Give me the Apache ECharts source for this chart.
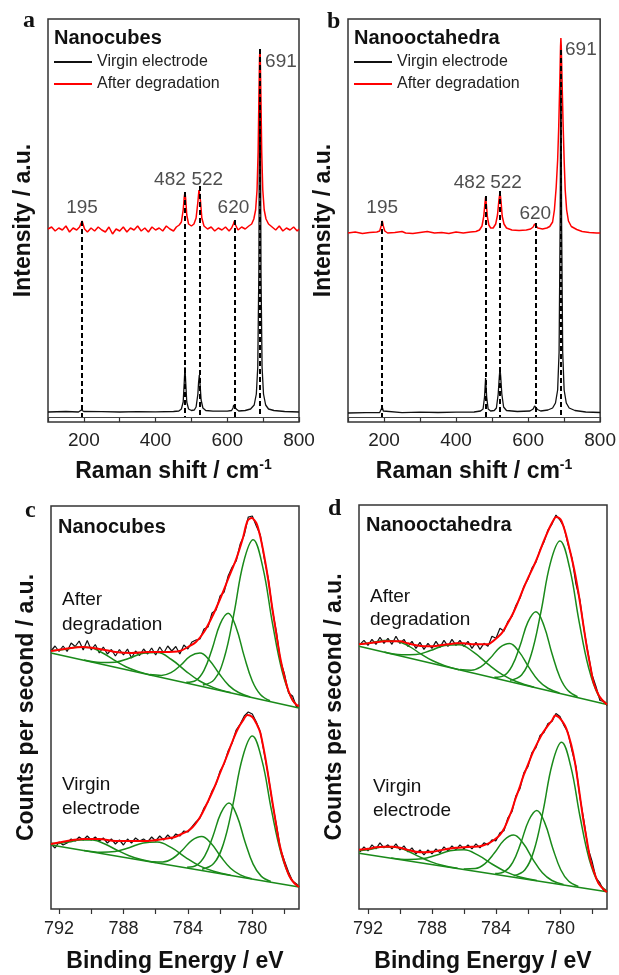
<!DOCTYPE html>
<html>
<head>
<meta charset="utf-8">
<script src="https://cdn.jsdelivr.net/npm/echarts@6/dist/echarts.min.js"></script>
<style>
  html, body { margin: 0; padding: 0; background: #fff; }
  #main { width: 619px; height: 975px; }
</style>
</head>
<body>
<div id="main"></div>
<script>
// ---- Raman (a: nanocubes, b: nanooctahedra) ----
var ramanPeaks = [195, 482, 522, 620, 691];
var dashTopA = [201, 230, 236, 202, 373];
var dashTopB = [201, 226, 231, 199, 372];
var ramanTicks = [100, 200, 300, 400, 500, 600, 700, 800];
var ramanLabels = [200, 400, 600, 800];

var virginA = [[100,10],[150,10.5],[185,10],[190,10.5],[193,12],[195,14],[197,12],[200,10.5],[205,10],[250,10.3],[300,10],[350,10.4],[400,10.2],[450,10.5],[465,11],[472,13],[477,20],[480,40],[482,55],[484,40],[487,20],[492,13],[500,11.5],[508,12],[513,15],[518,28],[520,40],[522,47],[524,38],[527,22],[532,14],[540,11.5],[560,10.8],[600,10.8],[612,11.5],[616,14],[618,17],[620,19],[622,17],[625,13],[632,11],[650,11.5],[665,13],[675,17],[681,28],[685,55],[688,150],[690,330],[691,373],[692,330],[694,150],[697,55],[701,28],[707,17],[715,13],[730,11.5],[760,10.5],[800,10]];
var afterA = [[100,193],[110,195],[120,191],[130,194],[140,192],[150,196],[160,190],[170,194],[180,192],[188,195],[195,201],[202,193],[210,190],[220,194],[230,191],[240,195],[250,192],[260,190],[270,195],[280,188],[290,193],[300,191],[310,195],[320,190],[330,194],[340,192],[350,196],[360,191],[370,194],[380,190],[390,195],[400,192],[410,194],[420,191],[430,196],[440,193],[450,191],[458,195],[466,197],[472,200],[477,212],[480,225],[482,230],[484,223],[487,207],[492,198],[500,196],[507,198],[513,204],[518,220],[521,232],[523,233],[525,222],[529,204],[535,196],[545,193],[555,195],[565,191],[575,194],[585,192],[595,195],[605,191],[612,194],[617,198],[620,201],[623,197],[630,192],[640,195],[650,193],[660,196],[668,198],[674,203],[679,212],[683,232],[686,270],[688,320],[690,365],[691,372],[692,365],[694,320],[696,270],[699,232],[703,212],[708,203],[715,198],[725,195],[735,192],[745,196],[755,191],[765,194],[775,192],[785,195],[795,191],[800,193]];
var virginB = [[100,9],[150,9.3],[188,9.5],[192,11],[195,15],[198,11],[203,9.5],[250,9.3],[300,9.8],[350,9.5],[400,9.8],[450,10],[468,11],[475,13],[479,25],[482,44],[485,25],[489,13],[496,11],[506,11.5],[512,14],[517,28],[520,45],[522,54],[524,45],[527,28],[532,15],[540,11.5],[570,10.5],[605,11],[614,13],[618,16],[620,18],[622,16],[626,12.5],[635,11],[655,12],[668,14],[676,19],[682,32],[686,70],[689,200],[691,377],[693,200],[696,70],[700,32],[706,19],[714,14],[730,11.5],[760,10],[800,9.5]];
var afterB = [[100,189],[120,190],[140,188.5],[160,189.5],[180,190],[188,191],[192,196],[195,201],[198,196],[202,191],[210,189],[230,189.5],[250,190.5],[260,189],[280,188.5],[300,189.5],[320,190.5],[340,189],[360,189.5],[380,188.5],[400,190],[420,189],[440,190],[455,190.5],[465,192],[472,196],[477,206],[480,218],[482,225],[484,218],[487,205],[491,197],[496,194],[503,194],[510,198],[515,207],[519,222],[522,230],[525,220],[528,206],[533,198],[540,194],[555,192],[575,191.5],[595,192],[607,193],[614,195],[618,198],[620,198.5],[622,197],[627,194],[640,193],[652,194],[660,195.5],[668,200],[673,212],[678,235],[682,262],[685,295],[688,340],[690,375],[691,384],[692,376],[694,345],[697,300],[700,262],[703,232],[707,212],[712,201],[720,195.5],[735,192.5],[750,190.5],[770,189.5],[790,189],[800,189]];

// ---- XPS Fe 2p (c: nanocubes, d: nanooctahedra) ----
var xpsTicks = [778, 780, 782, 784, 786, 788, 790, 792];
var xpsLabels = [780, 784, 788, 792];

var cAfterRaw = [[792.5,258],[792.25,263],[792,257.5],[791.75,263],[791.5,257.5],[791.25,266],[791,262.5],[790.75,268],[790.5,259],[790.25,268.5],[790,259],[789.75,264.5],[789.5,256],[789.25,262],[789,255],[788.75,259.5],[788.5,253],[788.25,259.5],[788,254],[787.75,260],[787.5,251],[787.25,258],[787,253.5],[786.75,260],[786.5,255],[786.25,261],[786,254],[785.75,262],[785.5,256],[785.25,263],[785,258],[784.75,262.5],[784.5,255],[784.25,264],[784,260],[783.75,267],[783.5,269],[783.25,270],[783,280],[782.75,282],[782.5,296],[782.25,299],[782,313],[781.75,317],[781.5,333],[781.25,342],[781,348],[780.75,365],[780.5,374],[780.25,392],[780,393],[779.75,383],[779.5,374],[779.25,350],[779,330],[778.75,299],[778.5,277],[778.25,248],[778,235],[777.75,216],[777.5,213],[777.25,202],[777.1,204]];
var cAfterFit = [[792.5,258],[791.5,260.5],[790.5,262],[789.5,260],[788.5,257],[787.5,256],[786.5,257],[785.5,257],[784.5,258],[784,262],[783.5,267],[783,277],[782.5,292],[782,310],[781.5,330],[781,350],[780.6,370],[780.3,388],[780.05,391],[779.75,386],[779.5,372],[779.25,352],[779,328],[778.75,300],[778.5,274],[778.25,250],[778,232],[777.75,218],[777.5,209],[777.25,204],[777.1,203]];
var cAfterBg = [[792.5,256],[777.1,201]];
var cAfterComp = [
  [[777.1,202],[777.55,210],[778.15,237.9],[778.75,285.9],[779.35,341.9],[779.95,369.2],[780.55,346.2],[781.15,294.5],[781.75,250.8],[782.35,229.6],[783.07,223.9]],
  [[778.9,208.2],[779.5,214.5],[780,228],[780.5,252.6],[781,281.3],[781.5,295.7],[782,284.9],[782.5,259.8],[783,238.7],[783.5,228.7],[784.1,226.8]],
  [[780.13,212.1],[780.85,216.5],[781.45,223.4],[782.05,235.2],[782.65,248.6],[783.25,256],[783.85,252.9],[784.45,243.7],[785.05,236.3],[785.65,233.6],[786.37,234.4]],
  [[781.35,216.4],[782.4,221.4],[783.27,228],[784.15,238.2],[785.02,249.5],[785.9,256.4],[786.77,255.7],[787.65,250.7],[788.52,246.8],[789.4,246.4],[790.45,248.9]],
  [[786.2,233.6],[787.1,237.6],[787.85,242.3],[788.6,249.1],[789.35,256.5],[790.1,261.4],[790.85,261.9],[791.6,259.8],[792.35,258.4],[792.5,258.2]]
];

var cVirginRaw = [[792.5,65],[792.25,61],[792,67],[791.75,64],[791.5,66],[791.25,70],[791,68],[790.75,72],[790.5,69],[790.25,73],[790,69],[789.75,72],[789.5,68],[789.25,71],[789,66],[788.75,70],[788.5,65],[788.25,69],[788,64],[787.75,70],[787.5,66],[787.25,71],[787,68],[786.75,70],[786.5,67],[786.25,72],[786,68],[785.75,73],[785.5,69],[785.25,74],[785,70],[784.75,75],[784.5,73],[784.25,78],[784,77],[783.75,82],[783.5,87],[783.25,91],[783,101],[782.75,107],[782.5,118],[782.25,125],[782,138],[781.75,145],[781.5,158],[781.25,166],[781,179],[780.75,185],[780.5,193],[780.25,197],[780,195],[779.75,187],[779.5,177],[779.25,155],[779,133],[778.75,106],[778.5,84],[778.25,60],[778,48],[777.75,37],[777.5,28],[777.25,25],[777.1,22]];
var cVirginFit = [[792.5,65],[791.5,68],[790.5,70],[789.5,70],[788.5,68],[787.5,68],[786.5,68],[785.5,70],[784.8,72],[784.4,75],[784,78],[783.7,82],[783.4,88],[783.1,96],[782.8,106],[782.4,120],[782,136],[781.6,152],[781.2,169],[780.9,180],[780.6,188],[780.3,194],[780,192],[779.7,184],[779.5,176],[779.2,152],[778.9,122],[778.6,92],[778.3,64],[778,46],[777.7,33],[777.4,26],[777.1,22]];
var cVirginBg = [[792.5,64],[777.1,22]];
var cVirginComp = [
  [[777.1,23],[777.6,30],[778.2,55],[778.8,98.1],[779.4,148.6],[780,172.9],[780.6,151.8],[781.2,104.7],[781.8,64.8],[782.4,45.4],[783.12,39.8]],
  [[778.85,27.5],[779.45,32.9],[779.95,44.9],[780.45,67.1],[780.95,93.1],[781.45,105.9],[781.95,95.8],[782.45,72.6],[782.95,53.1],[783.45,43.8],[784.05,41.7]],
  [[780.03,30.3],[780.75,34.1],[781.35,40.7],[781.95,52.2],[782.55,65.5],[783.15,72.5],[783.75,68.7],[784.35,58.8],[784.95,50.5],[785.55,47.1],[786.27,47.3]],
  [[781.35,33.8],[782.4,37.8],[783.27,43.2],[784.15,51.7],[785.02,61.3],[785.9,67],[786.77,66.1],[787.65,61.3],[788.52,57.5],[789.4,56.8],[790.45,58.6]],
  [[786,46.4],[786.9,49.5],[787.65,53.3],[788.4,58.8],[789.15,65],[789.9,68.9],[790.65,69.1],[791.4,67],[792.15,65.5],[792.5,65.8]]
];

var dAfterRaw = [[792.5,264],[792.25,268],[792,263],[791.75,269],[791.5,264],[791.25,271],[791,265],[790.75,270],[790.5,264],[790.25,272],[790,265],[789.75,269],[789.5,262],[789.25,267],[789,260],[788.75,266],[788.5,259],[788.25,265],[788,260],[787.75,267],[787.5,261],[787.25,268],[787,262],[786.75,269],[786.5,263],[786.25,268],[786,262],[785.75,267],[785.5,260],[785.25,266],[785,259],[784.75,265],[784.5,262],[784.25,272],[784,270],[783.75,280],[783.5,277],[783.25,287],[783,292],[782.75,303],[782.5,310],[782.25,322],[782,329],[781.75,340],[781.5,346],[781.25,358],[781,366],[780.75,378],[780.5,384],[780.25,393],[780,388],[779.75,381],[779.5,364],[779.25,350],[779,324],[778.75,308],[778.5,279],[778.25,256],[778,234],[777.75,222],[777.5,208],[777.25,207],[777.06,203]];
var dAfterFit = [[792.56,264],[792,265],[791.5,266],[791,267],[790.5,267],[790,267],[789.5,265],[789,263],[788.5,262],[788,262],[787.5,263],[787,264],[786.5,265],[786,265],[785.5,264],[785,264],[784.5,264],[784.2,267],[783.9,271],[783.6,276],[783.3,284],[782.9,296],[782.6,307],[782.3,319],[782,330],[781.67,341],[781.35,353],[781.04,366],[780.8,375],[780.6,382],[780.4,388],[780.25,391],[780.05,390],[779.9,387],[779.65,375],[779.4,359],[779.1,338],[778.85,316],[778.6,290],[778.33,262],[778.1,242],[777.9,226],[777.6,214],[777.39,209],[777.06,204]];
var dAfterBg = [[792.56,262],[777.06,204]];
var dAfterComp = [
  [[777.06,205],[777.6,213],[778.2,240.2],[778.8,286.5],[779.4,340.6],[780,367],[780.6,345],[781.2,295.5],[781.8,253.6],[782.4,233.5],[783.12,228.2]],
  [[778.9,211.7],[779.5,217.9],[780,231],[780.5,254.9],[781,282.6],[781.5,296.6],[782,286.4],[782.5,262.3],[783,242.2],[783.5,232.8],[784.1,231.1]],
  [[780.03,215.5],[780.75,220.2],[781.35,228],[781.95,241.3],[782.55,256.5],[783.15,264.8],[783.75,261],[784.35,250.3],[784.95,241.5],[785.55,238.2],[786.27,238.8]],
  [[781.62,221.3],[782.7,226.7],[783.6,233.8],[784.5,244.3],[785.4,256.2],[786.3,263.6],[787.2,262.9],[788.1,257.8],[789,253.9],[789.9,253.6],[790.98,256.3]],
  [[786.3,238.7],[787.2,242.8],[787.95,247.6],[788.7,254.5],[789.45,262.2],[790.2,267.1],[790.95,267.8],[791.7,265.8],[792.45,264.5],[792.56,264.3]]
];

var dVirginRaw = [[792.5,57],[792.25,62],[792,58],[791.75,64],[791.5,60],[791.25,66],[791,61],[790.75,64],[790.5,60],[790.25,65],[790,59],[789.75,63],[789.5,57],[789.25,61],[789,55],[788.75,59],[788.5,54],[788.25,59],[788,55],[787.75,60],[787.5,56],[787.25,62],[787,58],[786.75,63],[786.5,59],[786.25,64],[786,60],[785.75,64],[785.5,60],[785.25,65],[785,61],[784.75,66],[784.5,64],[784.25,69],[784,68],[783.75,76],[783.5,78],[783.25,91],[783,97],[782.75,113],[782.5,120],[782.25,136],[782,142],[781.75,156],[781.5,161],[781.25,173],[781,176],[780.75,185],[780.5,187],[780.25,195],[780,192],[779.75,183],[779.5,176],[779.25,158],[779,142],[778.75,111],[778.5,88],[778.25,61],[778,48],[777.75,31],[777.5,26],[777.25,18],[777.06,17]];
var dVirginFit = [[792.56,59],[792,60],[791.5,61.5],[791,62],[790.5,62],[790,61],[789.5,59],[789,57],[788.5,56.5],[788,57],[787.5,58.5],[787,60],[786.5,61],[786,61.5],[785.5,62],[785,62.5],[784.7,64],[784.4,66],[784.1,69],[783.75,74],[783.5,80],[783.25,89],[783,99],[782.8,109],[782.55,120],[782.3,132],[782,144],[781.7,156],[781.4,166],[781.06,176],[780.8,182],[780.5,188],[780.3,193],[780.05,191],[779.8,186],[779.6,180],[779.3,164],[779.06,146],[778.8,118],[778.54,89],[778.3,67],[778.1,49],[777.85,36],[777.6,26],[777.3,20],[777.06,17]];
var dVirginBg = [[792.56,55.7],[777.06,17.3]];
var dVirginComp = [
  [[777.06,18],[777.6,26],[778.175,49.9],[778.75,92.5],[779.325,142.3],[779.9,166.3],[780.475,145.2],[781.05,98.2],[781.625,58.4],[782.2,38.9],[782.89,33.2]],
  [[778.85,22.4],[779.45,27.6],[779.95,39.2],[780.45,60.7],[780.95,85.9],[781.45,98.2],[781.95,88.3],[782.45,65.7],[782.95,46.6],[783.45,37.5],[784.05,35.3]],
  [[779.78,24.4],[780.5,28.4],[781.1,36.1],[781.7,49.8],[782.3,65.6],[782.9,73.8],[783.5,68.6],[784.1,55.8],[784.7,45],[785.3,40.3],[786.02,39.9]],
  [[781.45,28.4],[782.5,32],[783.37,37.1],[784.25,44.9],[785.12,53.7],[786,59],[786.87,58],[787.75,53.6],[788.62,50.1],[789.5,49.4],[790.55,51]],
  [[786.4,40.6],[787.3,43.4],[788.05,47],[788.8,52.2],[789.55,58.1],[790.3,61.7],[791.05,61.8],[791.8,59.7],[792.55,58.1]]
];

var font = '"Liberation Sans", Arial, sans-serif';
var RED = '#ff0000', GREEN = '#1a8a1a', BLACK = '#111';

var chart = echarts.init(document.getElementById('main'), null, { renderer: 'canvas' });

function line(gi, data, color, width, smooth, name, z) {
  return {
    type: 'line', name: name, xAxisIndex: gi, yAxisIndex: gi, data: data,
    symbol: 'none', smooth: smooth || false, silent: true, z: z || 2,
    lineStyle: { color: color, width: width }, itemStyle: { color: color }
  };
}

function ramanX(gi) {
  return {
    type: 'value', gridIndex: gi, min: 100, max: 800,
    name: 'Raman shift / cm{s|-1}', nameLocation: 'middle', nameGap: 36,
    nameTextStyle: {
      fontFamily: font, fontSize: 23, fontWeight: 'bold', color: '#111',
      rich: { s: { fontFamily: font, fontSize: 14, fontWeight: 'bold', color: '#111', padding: [0, 0, 14, 0] } }
    },
    axisLine: { show: false }, splitLine: { show: false },
    axisTick: { show: true, inside: true, length: 5, customValues: ramanTicks, lineStyle: { color: '#333', width: 1.2 } },
    axisLabel: { customValues: ramanLabels, fontFamily: font, fontSize: 19, color: '#222', margin: 9 }
  };
}

function xpsX(gi, lo, hi) {
  return {
    type: 'value', gridIndex: gi, min: lo, max: hi, inverse: true,
    name: 'Binding Energy / eV', nameLocation: 'middle', nameGap: 41,
    nameTextStyle: { fontFamily: font, fontSize: 23, fontWeight: 'bold', color: '#111' },
    axisLine: { show: false }, splitLine: { show: false },
    axisTick: { show: true, inside: false, length: 5, customValues: xpsTicks, lineStyle: { color: '#333', width: 1.2 } },
    axisLabel: { customValues: xpsLabels, fontFamily: font, fontSize: 18, color: '#222', margin: 11 }
  };
}

function plainY(gi, name) {
  return {
    type: 'value', gridIndex: gi, min: 0, max: 403,
    name: name, nameLocation: 'middle', nameRotate: 90, nameGap: 13,
    nameTextStyle: { fontFamily: font, fontSize: 23, fontWeight: 'bold', color: '#111' },
    axisLine: { show: false }, axisTick: { show: false }, axisLabel: { show: false }, splitLine: { show: false }
  };
}

function guides(gi, tops) {
  var d = ramanPeaks.map(function (p, i) {
    return [{ coord: [p, tops[i]] }, { coord: [p, 4] }];
  });
  d.push({ yAxis: 4.3, lineStyle: { type: 'solid', width: 1, color: '#444' } });
  return {
    type: 'line', xAxisIndex: gi, yAxisIndex: gi, data: [], silent: true, z: 8,
    markLine: {
      silent: true, symbol: 'none', animation: false, label: { show: false },
      lineStyle: { type: [5, 3], color: '#000', width: 2 }, data: d
    }
  };
}

function peakLabels(gi, tops, offs) {
  return {
    type: 'scatter', xAxisIndex: gi, yAxisIndex: gi, symbolSize: 1, silent: true, z: 10,
    itemStyle: { color: 'rgba(0,0,0,0)' },
    data: ramanPeaks.map(function (p, i) {
      return { value: [p, tops[i]], label: { offset: offs[i] } };
    }),
    label: {
      show: true, position: 'inside', align: 'center', verticalAlign: 'middle',
      formatter: function (d) { return d.value[0]; },
      fontFamily: font, fontSize: 19, color: '#222'
    }
  };
}

function xpsSeries(gi, raw, fit, bg, comps) {
  var s = [line(gi, raw, BLACK, 1.2, false, null, 2)];
  s.push(line(gi, bg, GREEN, 1.5, false, null, 3));
  comps.forEach(function (c) { s.push(line(gi, c, GREEN, 1.5, 0.4, null, 3)); });
  s.push(line(gi, fit, RED, 2, 0.3, null, 4));
  return s;
}

var series = [
  line(0, virginA, BLACK, 1.3, false, 'Virgin electrode', 2),
  line(0, afterA, RED, 1.5, false, 'After degradation', 3),
  guides(0, dashTopA),
  peakLabels(0, dashTopA, [[0, -13], [-15, -12], [8, -6], [-1, -12], [21, 13]]),
  line(1, virginB, BLACK, 1.3, false, 'Virgin electrode', 2),
  line(1, afterB, RED, 1.5, false, 'After degradation', 3),
  guides(1, dashTopB),
  peakLabels(1, dashTopB, [[0, -13], [-16, -13], [6, -8], [0, -9], [20, 0]])
].concat(
  xpsSeries(2, cAfterRaw, cAfterFit, cAfterBg, cAfterComp),
  xpsSeries(2, cVirginRaw, cVirginFit, cVirginBg, cVirginComp),
  xpsSeries(3, dAfterRaw, dAfterFit, dAfterBg, dAfterComp),
  xpsSeries(3, dVirginRaw, dVirginFit, dVirginBg, dVirginComp)
);

function txt(x, y, s, size, bold, family) {
  return {
    type: 'text', x: x, y: y, silent: true, z: 100,
    style: {
      text: s, fill: '#111', fontSize: size, fontWeight: bold ? 'bold' : 'normal',
      fontFamily: family || font, align: 'left', verticalAlign: 'middle'
    }
  };
}

var serif = '"Liberation Serif", "Times New Roman", serif';

var legendBase = {
  orient: 'vertical', itemWidth: 38, itemHeight: 2, itemGap: 6, icon: 'rect', padding: 0,
  selectedMode: false, data: ['Virgin electrode', 'After degradation'],
  textStyle: { fontFamily: font, fontSize: 16, color: '#222', lineHeight: 16 }
};

chart.setOption({
  animation: false,
  backgroundColor: '#fff',
  grid: [
    { left: 48, top: 19, width: 251, height: 403, show: true, borderColor: '#333', borderWidth: 1.5, backgroundColor: 'transparent' },
    { left: 348, top: 19, width: 254, height: 403, show: true, borderColor: '#333', borderWidth: 1.5, backgroundColor: 'transparent' },
    { left: 51, top: 506, width: 248, height: 403, show: true, borderColor: '#333', borderWidth: 1.5, backgroundColor: 'transparent' },
    { left: 359, top: 505, width: 248, height: 404, show: true, borderColor: '#333', borderWidth: 1.5, backgroundColor: 'transparent' }
  ],
  xAxis: [ramanX(0), ramanX(1), xpsX(2, 777.1, 792.5), xpsX(3, 777.06, 792.56)],
  yAxis: [
    plainY(0, 'Intensity / a.u.'), plainY(1, 'Intensity / a.u.'),
    plainY(2, 'Counts per second / a.u.'), plainY(3, 'Counts per second / a.u.')
  ],
  legend: [
    Object.assign({ left: 54, top: 54 }, legendBase),
    Object.assign({ left: 354, top: 54 }, legendBase)
  ],
  graphic: [
    txt(23, 21, 'a', 24, true, serif),
    txt(327, 22, 'b', 24, true, serif),
    txt(25, 511, 'c', 24, true, serif),
    txt(328, 509, 'd', 24, true, serif),
    txt(54, 38, 'Nanocubes', 20, true),
    txt(354, 38, 'Nanooctahedra', 20, true),
    txt(58, 527, 'Nanocubes', 20, true),
    txt(366, 525, 'Nanooctahedra', 20, true),
    txt(62, 600, 'After', 19, false),
    txt(62, 625, 'degradation', 19, false),
    txt(62, 785, 'Virgin', 19, false),
    txt(62, 809, 'electrode', 19, false),
    txt(370, 597, 'After', 19, false),
    txt(370, 620, 'degradation', 19, false),
    txt(373, 787, 'Virgin', 19, false),
    txt(373, 811, 'electrode', 19, false)
  ],
  series: series
});
</script>
</body>
</html>
